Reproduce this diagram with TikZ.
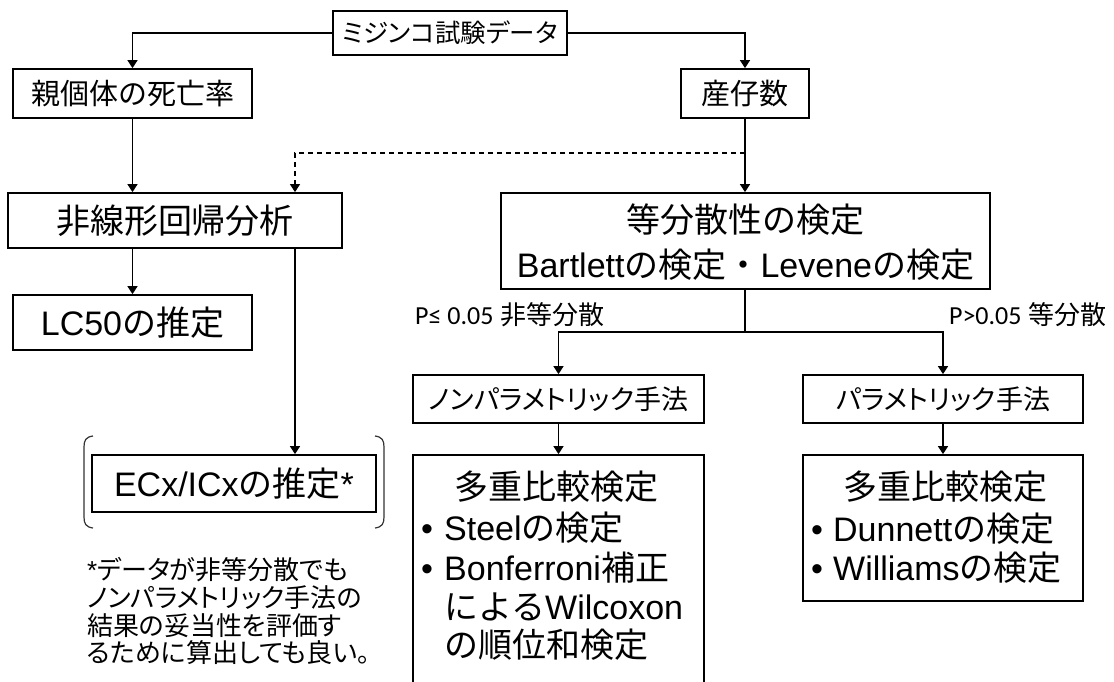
\documentclass[tikz,border=0pt]{standalone}
\usepackage{fontspec}
\setmainfont{Liberation Sans}
\newfontfamily\jp{Noto Sans CJK JP}
\newfontfamily\jpp[RawFeature=+palt]{Noto Sans CJK JP}
\newfontfamily\calfont{Carlito}
\usetikzlibrary{arrows.meta}
\newcommand\J[1]{{\jp #1}}
\newcommand\JP[1]{{\jpp #1}}
\newcommand\fs[1]{\fontsize{#1}{#1}\selectfont}
\begin{document}
\begin{tikzpicture}[x=1pt,y=-1pt,
 box/.style={draw, line width=1.8pt, inner sep=0pt},
 bA/.style={box, font=\fs{25.5}, text height=20.4pt, text depth=1pt},
 bB/.style={box, font=\fs{29}, text height=23.2pt, text depth=1.2pt},
 bC/.style={box, font=\fs{34}, text height=27.2pt, text depth=1.4pt},
 bD/.style={box, font=\fs{27}, text height=21.6pt, text depth=1.1pt},
 big/.style={inner sep=0pt, font=\fs{34}},
 small/.style={inner sep=0pt, font=\fs{26}, anchor=base west},
 lab/.style={inner sep=0pt, font=\fs{26}},
 conn/.style={line width=1.6pt, -{Triangle[width=10pt,length=8pt]}},
 dconn/.style={line width=1.2pt, dash pattern=on 5pt off 4pt, -{Triangle[width=10pt,length=8pt]}},
 brk/.style={line width=1.2pt, draw=black!80}]
\clip (0,0) rectangle (1114,681);
\fill[white] (0,0) rectangle (1114,681);

% boxes
\node[bA, minimum width=234pt, minimum height=44pt] (top) at (450,33) {\JP{ミジンコ試験データ}};
\node[bB, minimum width=239pt, minimum height=49pt] (oya) at (132.5,93.5) {\J{親個体の死亡率}};
\node[bB, minimum width=128pt, minimum height=49pt] (sanshi) at (745,93.5) {\J{産仔数}};
\node[bC, minimum width=334pt, minimum height=55pt] (hisen) at (175,220.5) {\J{非線形回帰分析}};
\node[bC, minimum width=239pt, minimum height=55pt] (lc) at (132.5,322.5) {LC50\J{の推定}};
\node[bC, minimum width=284pt, minimum height=57pt] (ecx) at (234,483.5) {ECx/ICx\J{の推定}*};
\node[box, minimum width=489pt, minimum height=96pt] (toubun) at (745.5,241) {};
\node[bD, minimum width=291pt, minimum height=48pt] (nonpara) at (558.5,399) {\JP{ノンパラメトリック手法}};
\node[bD, minimum width=280pt, minimum height=48pt] (para) at (943,399) {\JP{パラメトリック手法}};
\node[box, minimum width=291pt, minimum height=235pt] (tajL) at (558.5,572.5) {};
\node[box, minimum width=280pt, minimum height=146pt] (tajR) at (943,528) {};

% text in the large boxes
\node[big, anchor=base] (tb1) at (745.5,232.5) {\J{等分散性の検定}};
\node[big, anchor=base] (tb2) at (745.5,277.5) {Bartlett\J{の検定・}Levene\J{の検定}};

\node[big, anchor=base] (tl0) at (556.5,499.5) {\J{多重比較検定}};
\node[big, anchor=base west] (tl1) at (421,540.5) {\makebox[23pt][l]{•}Steel\J{の検定}};
\node[big, anchor=base west] (tl2) at (421,580.5) {\makebox[23pt][l]{•}Bonferroni\J{補正}};
\node[big, anchor=base west] (tl3) at (444,619.5) {\J{による}Wilcoxon};
\node[big, anchor=base west] (tl4) at (444,657.5) {\J{の順位和検定}};

\node[big, anchor=base] (tr0) at (945,499.5) {\J{多重比較検定}};
\node[big, anchor=base west] (tr1) at (811,541.5) {\makebox[22pt][l]{•}Dunnett\J{の検定}};
\node[big, anchor=base west] (tr2) at (811,580.5) {\makebox[22pt][l]{•}Williams\J{の検定}};

% labels
\node[lab, anchor=base west] (pl) at (415,324) {{\calfont P≤ 0.05} \J{非等分散}};
\node[lab, anchor=base east] (pr) at (1107,324) {{\calfont P>0.05} \J{等分散}};

% footnote
\node[small] (f1) at (87,579.5) {*\JP{データが非等分散でも}};
\node[small] (f2) at (87,607.5) {\JP{ノンパラメトリック手法の}};
\node[small] (f3) at (87,635) {\JP{結果の妥当性を評価す}};
\node[small] (f4) at (87,662.5) {\JP{るために算出しても良い。}};

% brackets
\draw[brk] (93,436) .. controls (86,437) and (84,440) .. (84,447) -- (84,517) .. controls (84,524) and (86,527) .. (93,528);
\draw[brk] (375,436) .. controls (382,437) and (384,440) .. (384,447) -- (384,517) .. controls (384,524) and (382,527) .. (375,528);

% connectors
\coordinate (ax) at (295,0);
\coordinate (dj) at (745,153);
\coordinate (br) at (745,332);
\draw[conn] (top.west) -| (oya.north);
\draw[conn] (top.east) -| (sanshi.north);
\draw[conn] (oya.south) -- (oya.south |- hisen.north);
\draw[conn] (sanshi.south) -- (sanshi.south |- toubun.north);
\draw[dconn] (dj) -| (ax |- hisen.north);
\draw[conn] (hisen.south -| lc.north) -- (lc.north);
\draw[conn] (hisen.south -| ax) -- (ecx.north -| ax);
\draw[line width=1.6pt] (toubun.south -| br) -- (br);
\draw[conn] (br) -| (nonpara.north);
\draw[conn] (br) -| (para.north);
\draw[conn] (nonpara.south) -- (tajL.north);
\draw[conn] (para.south) -- (tajR.north);
\end{tikzpicture}
\end{document}
